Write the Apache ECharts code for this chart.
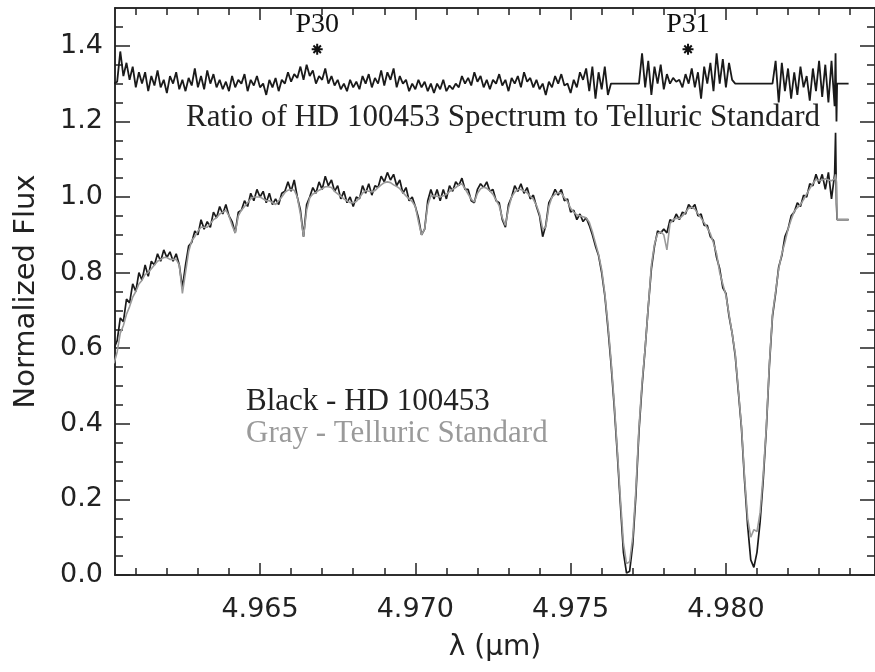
<!DOCTYPE html>
<html><head><meta charset="utf-8">
<script src="https://cdn.jsdelivr.net/npm/echarts@6/dist/echarts.min.js"></script>
<style>html,body{margin:0;padding:0;background:#fff}#c{width:875px;height:672px}</style>
</head><body><div id="c"></div>
<script>
const wavelength = [
4.9603,4.9604,4.9605,4.9606,4.9607,4.9608,4.9609,4.9610,4.9611,4.9612,
4.9613,4.9614,4.9615,4.9616,4.9617,4.9618,4.9619,4.9620,4.9621,4.9622,
4.9623,4.9624,4.9625,4.9626,4.9627,4.9628,4.9629,4.9630,4.9631,4.9632,
4.9633,4.9634,4.9635,4.9636,4.9637,4.9638,4.9639,4.9640,4.9641,4.9642,
4.9643,4.9644,4.9645,4.9646,4.9647,4.9648,4.9649,4.9650,4.9651,4.9652,
4.9653,4.9654,4.9655,4.9656,4.9657,4.9658,4.9659,4.9660,4.9661,4.9662,
4.9663,4.9664,4.9665,4.9666,4.9667,4.9668,4.9669,4.9670,4.9671,4.9672,
4.9673,4.9674,4.9675,4.9676,4.9677,4.9678,4.9679,4.9680,4.9681,4.9682,
4.9683,4.9684,4.9685,4.9686,4.9687,4.9688,4.9689,4.9690,4.9691,4.9692,
4.9693,4.9694,4.9695,4.9696,4.9697,4.9698,4.9699,4.9700,4.9701,4.9702,
4.9703,4.9704,4.9705,4.9706,4.9707,4.9708,4.9709,4.9710,4.9711,4.9712,
4.9713,4.9714,4.9715,4.9716,4.9717,4.9718,4.9719,4.9720,4.9721,4.9722,
4.9723,4.9724,4.9725,4.9726,4.9727,4.9728,4.9729,4.9730,4.9731,4.9732,
4.9733,4.9734,4.9735,4.9736,4.9737,4.9738,4.9739,4.9740,4.9741,4.9742,
4.9743,4.9744,4.9745,4.9746,4.9747,4.9748,4.9749,4.9750,4.9751,4.9752,
4.9753,4.9754,4.9755,4.9756,4.9757,4.9758,4.9759,4.9760,4.9761,4.9762,
4.9763,4.9764,4.9765,4.9766,4.9767,4.9768,4.9769,4.9770,4.9771,4.9772,
4.9773,4.9774,4.9775,4.9776,4.9777,4.9778,4.9779,4.9780,4.9781,4.9782,
4.9783,4.9784,4.9785,4.9786,4.9787,4.9788,4.9789,4.9790,4.9791,4.9792,
4.9793,4.9794,4.9795,4.9796,4.9797,4.9798,4.9799,4.9800,4.9801,4.9802,
4.9803,4.9804,4.9805,4.9806,4.9807,4.9808,4.9809,4.9810,4.9811,4.9812,
4.9813,4.9814,4.9815,4.9816,4.9817,4.9818,4.9819,4.9820,4.9821,4.9822,
4.9823,4.9824,4.9825,4.9826,4.9827,4.9828,4.9829,4.9830,4.9831,4.9832,
4.9833,4.9834,4.9835,
4.98353,4.98356,4.98358,4.98395];

const starFlux = [
0.60,0.62,0.68,0.67,0.73,0.72,0.77,0.75,0.80,0.78,
0.82,0.79,0.83,0.82,0.85,0.83,0.86,0.84,0.855,0.83,
0.85,0.82,0.76,0.82,0.87,0.88,0.91,0.90,0.94,0.915,
0.935,0.92,0.96,0.945,0.975,0.955,0.98,0.95,0.935,0.905,
0.96,0.965,0.99,0.975,1.01,0.99,1.02,1.00,1.015,0.985,
1.01,0.98,0.995,0.98,1.01,1.015,1.04,1.015,1.045,1.00,
0.965,0.895,0.98,1.00,1.025,1.01,1.04,1.02,1.055,1.03,
1.045,1.015,1.03,0.995,1.015,0.985,1.00,0.975,1.00,0.995,
1.03,1.01,1.035,1.005,1.03,1.025,1.055,1.04,1.065,1.045,
1.06,1.03,1.045,1.01,1.025,0.99,1.00,0.975,0.945,0.90,
0.915,0.99,1.02,0.995,1.02,0.99,1.02,0.995,1.03,1.015,
1.04,1.03,1.05,1.02,1.02,0.99,0.985,1.02,1.035,1.025,
1.04,1.015,1.02,0.99,0.985,0.94,0.92,0.98,1.00,1.03,
1.015,1.035,1.01,1.025,0.995,1.005,0.975,0.95,0.895,0.925,
0.985,1.00,1.02,1.005,1.02,0.99,0.995,0.96,0.965,0.94,
0.955,0.935,0.945,0.925,0.90,0.87,0.845,0.80,0.74,0.655,
0.56,0.45,0.325,0.19,0.06,0.005,0.01,0.08,0.21,0.38,
0.50,0.60,0.71,0.81,0.87,0.91,0.905,0.915,0.905,0.94,
0.935,0.955,0.94,0.96,0.955,0.98,0.97,0.98,0.95,0.955,
0.925,0.925,0.895,0.885,0.84,0.81,0.76,0.745,0.685,0.64,
0.58,0.485,0.39,0.25,0.13,0.04,0.02,0.06,0.14,0.25,
0.385,0.555,0.685,0.745,0.815,0.845,0.895,0.915,0.95,0.96,
0.985,0.975,1.005,1.00,1.035,1.03,1.06,1.035,1.06,1.02,
1.065,0.995,1.06,
1.17,0.98,0.94,0.94];

const telluricFlux = [
0.56,0.59,0.64,0.66,0.69,0.71,0.735,0.75,0.77,0.78,
0.795,0.80,0.81,0.82,0.83,0.835,0.84,0.84,0.835,0.835,
0.835,0.82,0.745,0.80,0.855,0.885,0.895,0.91,0.92,0.92,
0.92,0.93,0.94,0.945,0.955,0.96,0.965,0.95,0.925,0.905,
0.95,0.965,0.975,0.985,0.995,1.00,1.00,1.00,0.995,0.99,
0.99,0.985,0.98,0.99,1.00,1.012,1.018,1.02,1.018,1.00,
0.955,0.895,0.965,0.998,1.008,1.012,1.018,1.022,1.027,1.027,
1.025,1.015,1.008,1.002,0.995,0.99,0.985,0.985,0.988,0.998,
1.01,1.017,1.015,1.013,1.017,1.025,1.032,1.038,1.04,1.038,
1.032,1.028,1.022,1.012,1.003,0.995,0.988,0.975,0.935,0.90,
0.915,0.978,1.003,1.003,1.002,1.00,1.003,1.007,1.014,1.02,
1.025,1.032,1.035,1.022,1.008,0.994,0.987,1.01,1.022,1.026,
1.023,1.016,1.007,0.992,0.977,0.945,0.925,0.97,1.00,1.013,
1.02,1.02,1.016,1.011,1.002,0.994,0.978,0.955,0.915,0.92,
0.975,1.00,1.007,1.012,1.01,0.998,0.988,0.97,0.96,0.953,
0.95,0.948,0.945,0.933,0.908,0.878,0.848,0.808,0.745,0.665,
0.57,0.46,0.335,0.205,0.085,0.03,0.035,0.10,0.225,0.39,
0.51,0.60,0.71,0.82,0.875,0.903,0.908,0.90,0.86,0.93,
0.94,0.944,0.943,0.95,0.96,0.97,0.973,0.968,0.956,0.944,
0.932,0.918,0.903,0.878,0.85,0.80,0.77,0.74,0.69,0.64,
0.585,0.49,0.395,0.26,0.15,0.10,0.12,0.115,0.165,0.265,
0.39,0.56,0.69,0.75,0.81,0.85,0.88,0.915,0.94,0.962,
0.972,0.98,0.993,1.008,1.022,1.036,1.046,1.043,1.045,1.048,
1.045,1.043,1.048,
1.06,1.04,0.94,0.94];

const ratioFlux = [
1.30,1.305,1.385,1.32,1.355,1.31,1.345,1.29,1.33,1.30,
1.33,1.28,1.32,1.295,1.335,1.29,1.31,1.275,1.32,1.30,
1.33,1.285,1.31,1.28,1.315,1.295,1.34,1.29,1.32,1.285,
1.335,1.30,1.325,1.29,1.31,1.285,1.305,1.28,1.32,1.29,
1.31,1.30,1.325,1.28,1.31,1.295,1.32,1.29,1.30,1.27,
1.31,1.29,1.315,1.28,1.31,1.30,1.33,1.305,1.325,1.315,
1.345,1.31,1.35,1.32,1.335,1.30,1.32,1.31,1.34,1.30,
1.32,1.295,1.31,1.285,1.30,1.28,1.31,1.29,1.305,1.285,
1.32,1.30,1.325,1.29,1.315,1.30,1.335,1.295,1.33,1.31,
1.34,1.29,1.32,1.30,1.31,1.28,1.30,1.285,1.31,1.29,
1.305,1.28,1.30,1.275,1.30,1.285,1.31,1.28,1.295,1.285,
1.30,1.29,1.32,1.30,1.315,1.295,1.33,1.305,1.32,1.29,
1.31,1.285,1.31,1.30,1.325,1.295,1.31,1.28,1.315,1.30,
1.32,1.29,1.33,1.305,1.315,1.29,1.31,1.285,1.30,1.27,
1.305,1.29,1.32,1.30,1.325,1.295,1.30,1.275,1.31,1.29,
1.33,1.31,1.34,1.28,1.345,1.26,1.33,1.285,1.345,1.27,
1.30,1.30,1.30,1.30,1.30,1.30,1.30,1.30,1.30,1.30,
1.38,1.29,1.36,1.27,1.345,1.30,1.35,1.285,1.325,1.30,
1.315,1.305,1.31,1.29,1.325,1.30,1.34,1.29,1.33,1.26,
1.345,1.30,1.355,1.28,1.38,1.30,1.365,1.29,1.355,1.31,
1.30,1.30,1.30,1.30,1.30,1.30,1.30,1.30,1.30,1.30,
1.30,1.30,1.30,1.36,1.25,1.355,1.28,1.34,1.26,1.33,
1.27,1.345,1.29,1.32,1.255,1.34,1.28,1.36,1.265,1.35,
1.25,1.36,1.24,
1.38,1.20,1.30,1.30];

const lineX = [4.96684, 4.97878];
const lineY = [1.391, 1.391];
const lineNames = ['P30', 'P31'];

const xMajorTicks = [4.965, 4.970, 4.975, 4.980];
const xMinorTicks = [4.961,4.962,4.963,4.964,4.966,4.967,4.968,4.969,4.971,4.972,4.973,4.974,4.976,4.977,4.978,4.979,4.981,4.982,4.983,4.984];
const yMajorTicks = [0, 0.2, 0.4, 0.6, 0.8, 1.0, 1.2, 1.4];
const yMinorTicks = [0.05,0.1,0.15,0.25,0.3,0.35,0.45,0.5,0.55,0.65,0.7,0.75,0.85,0.9,0.95,1.05,1.1,1.15,1.25,1.3,1.35,1.45];

const XMIN = 4.96033, XMAX = 4.9848, YMIN = 0, YMAX = 1.5;
const INK = '#222';
const SANS = 'DejaVu Sans';
const SERIF = 'Liberation Serif';

function pairs(ys) { return wavelength.map((x, i) => [x, ys[i]]); }

function xAx(pos, ticks, len, labels, extra) {
  return Object.assign({
    type: 'value', min: XMIN, max: XMAX, position: pos, gridIndex: 0,
    axisLine: { show: true, onZero: false, lineStyle: { color: INK, width: 1.5 } },
    axisTick: { show: true, inside: true, length: len, customValues: ticks, lineStyle: { color: INK, width: 1.5 } },
    axisLabel: labels ? { show: true, customValues: ticks, formatter: v => v.toFixed(3), fontFamily: SANS, fontSize: 27, color: INK, margin: 21 } : { show: false },
    splitLine: { show: false }
  }, extra || {});
}
function yAx(pos, ticks, len, labels, extra) {
  return Object.assign({
    type: 'value', min: YMIN, max: YMAX, position: pos, gridIndex: 0,
    axisLine: { show: true, onZero: false, lineStyle: { color: INK, width: 1.5 } },
    axisTick: { show: true, inside: true, length: len, customValues: ticks, lineStyle: { color: INK, width: 1.5 } },
    axisLabel: labels ? { show: true, customValues: ticks, formatter: v => v.toFixed(1), fontFamily: SANS, fontSize: 27, color: INK, margin: 12 } : { show: false },
    splitLine: { show: false }
  }, extra || {});
}

const chart = echarts.init(document.getElementById('c'), null, { renderer: 'canvas' });
chart.setOption({
  animation: false,
  backgroundColor: '#fff',
  grid: { left: 115, right: 0, top: 8, bottom: 97, containLabel: false },
  xAxis: [
    xAx('bottom', xMajorTicks, 12, true, {
      name: 'λ (µm)', nameLocation: 'middle', nameGap: 59,
      nameTextStyle: { fontFamily: SANS, fontSize: 28, color: INK }
    }),
    xAx('bottom', xMinorTicks, 7, false),
    xAx('top', xMajorTicks, 12, false),
    xAx('top', xMinorTicks, 7, false)
  ],
  yAxis: [
    yAx('left', yMajorTicks, 15, true, {
      name: 'Normalized Flux', nameLocation: 'middle', nameGap: 74,
      nameTextStyle: { fontFamily: SANS, fontSize: 29, color: INK }
    }),
    yAx('left', yMinorTicks, 8, false),
    yAx('right', yMajorTicks, 15, false),
    yAx('right', yMinorTicks, 8, false)
  ],
  series: [
    { type: 'line', name: 'HD 100453', data: pairs(starFlux), showSymbol: false, symbol: 'none',
      lineStyle: { color: '#1a1a1a', width: 1.7 }, z: 2 },
    { type: 'line', name: 'Telluric Standard', data: pairs(telluricFlux), showSymbol: false, symbol: 'none',
      lineStyle: { color: '#9a9a9a', width: 1.6 }, z: 3 },
    { type: 'line', name: 'Ratio', data: pairs(ratioFlux), showSymbol: false, symbol: 'none',
      lineStyle: { color: '#1a1a1a', width: 1.8 }, z: 2 },
    { type: 'scatter', name: 'Pfund lines', data: lineX.map((x, i) => [x, lineY[i]]),
      symbol: 'path://M5,0L5,10M0,5L10,5M1.6,1.6L8.4,8.4M1.6,8.4L8.4,1.6', symbolSize: 11,
      itemStyle: { color: 'none', borderColor: '#111', borderWidth: 2, opacity: 1 },
      label: { show: true, position: 'top', distance: 3, formatter: p => lineNames[p.dataIndex],
        fontFamily: SERIF, fontSize: 28, color: '#111', opacity: 1 },
      emphasis: { disabled: true }, z: 4 }
  ],
  graphic: [
    { type: 'text', left: 186, top: 102, style: { text: 'Ratio of HD 100453 Spectrum to Telluric Standard', font: '31px "Liberation Serif"', fill: INK } },
    { type: 'text', left: 246, top: 386, style: { text: 'Black - HD 100453', font: '31px "Liberation Serif"', fill: INK } },
    { type: 'text', left: 246, top: 418, style: { text: 'Gray - Telluric Standard', font: '31px "Liberation Serif"', fill: '#9a9a9a' } }
  ]
});
</script></body></html>
